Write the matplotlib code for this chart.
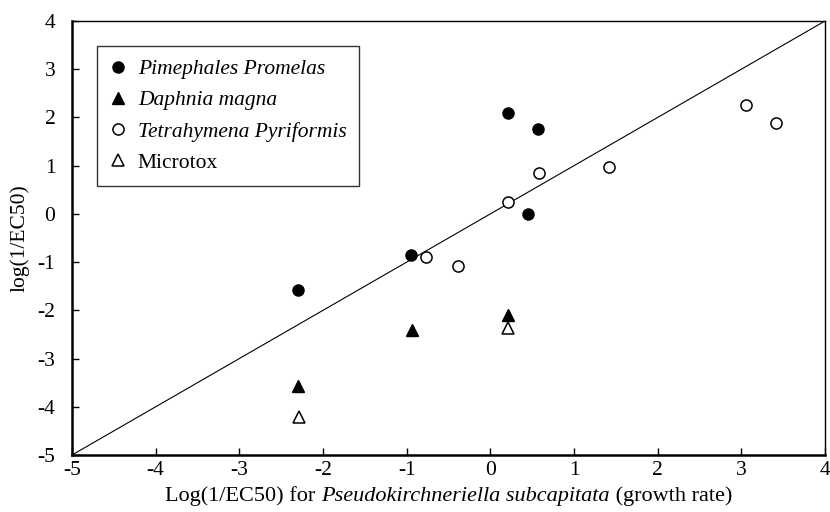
import matplotlib
matplotlib.use("Agg")
import matplotlib.pyplot as plt
from matplotlib.offsetbox import TextArea, HPacker, AnnotationBbox

plt.rcParams['font.family'] = ['Liberation Serif', 'DejaVu Serif']
plt.rcParams['axes.unicode_minus'] = False

# data
pim_x = [-2.30, -0.95, 0.21, 0.57, 0.45]
pim_y = [-1.58, -0.85, 2.10, 1.76, 0.00]
dap_x = [-2.30, -0.94, 0.21]
dap_y = [-3.57, -2.41, -2.10]
tet_x = [-0.77, -0.39, 0.21, 0.58, 1.42, 3.05, 3.41]
tet_y = [-0.90, -1.08, 0.24, 0.85, 0.97, 2.25, 1.88]
mic_x = [-2.29, 0.21]
mic_y = [-4.22, -2.37]
line_x = [-5, 4]
line_y = [-5, 4]
ticks = list(range(-5, 5))
labels = ['Pimephales Promelas', 'Daphnia magna', 'Tetrahymena Pyriformis', 'Microtox']

FS = 15.5
FSX = 16

fig = plt.figure(figsize=(8.3, 5.12), dpi=100)
ax = fig.add_axes([72/830, 1-455/512, 753/830, 434/512])

ax.plot(line_x, line_y, color='black', lw=0.8, zorder=1)
ax.plot(pim_x, pim_y, 'o', ms=8, mfc='black', mec='black', ls='none', label=labels[0])
ax.plot(dap_x, dap_y, '^', ms=9, mfc='black', mec='black', ls='none', label=labels[1])
ax.plot(tet_x, tet_y, 'o', ms=8, mfc='white', mec='black', mew=1.1, ls='none', label=labels[2])
ax.plot(mic_x, mic_y, '^', ms=9, mfc='white', mec='black', mew=1.1, ls='none', label=labels[3])

ax.set_xlim(-5, 4)
ax.set_ylim(-5, 4)
ax.set_xticks(ticks)
ax.set_yticks(ticks)
ax.tick_params(direction='in', length=5, width=1, labelsize=FS)
ax.tick_params(axis='x', pad=4)
ax.tick_params(axis='y', pad=12)
for s in ax.spines.values():
    s.set_linewidth(1.0)
ax.spines['left'].set_linewidth(1.8)
ax.spines['bottom'].set_linewidth(1.8)

ax.set_ylabel('log(1/EC50)', fontsize=FS, labelpad=6)

# x label with italic species name
parts = [TextArea('Log(1/EC50) for ', textprops=dict(fontsize=FSX)),
         TextArea('Pseudokirchneriella subcapitata', textprops=dict(fontsize=FSX, style='italic')),
         TextArea(' (growth rate)', textprops=dict(fontsize=FSX))]
box = HPacker(children=parts, align='baseline', pad=0, sep=0)
ab = AnnotationBbox(box, (0.5, -0.095), xycoords='axes fraction', box_alignment=(0.5, 0.5),
                    frameon=False, pad=0, annotation_clip=False)
ax.add_artist(ab)

leg = ax.legend(loc='upper left', bbox_to_anchor=(0.033, 0.942), fontsize=FS,
                frameon=True, fancybox=False, edgecolor='black', handlelength=0.8,
                handletextpad=0.5, borderpad=0.6, labelspacing=0.52, borderaxespad=0)
leg.get_frame().set_linewidth(1.0)
for t in leg.get_texts()[:3]:
    t.set_style('italic')

fig.savefig('out.png', dpi=100)
